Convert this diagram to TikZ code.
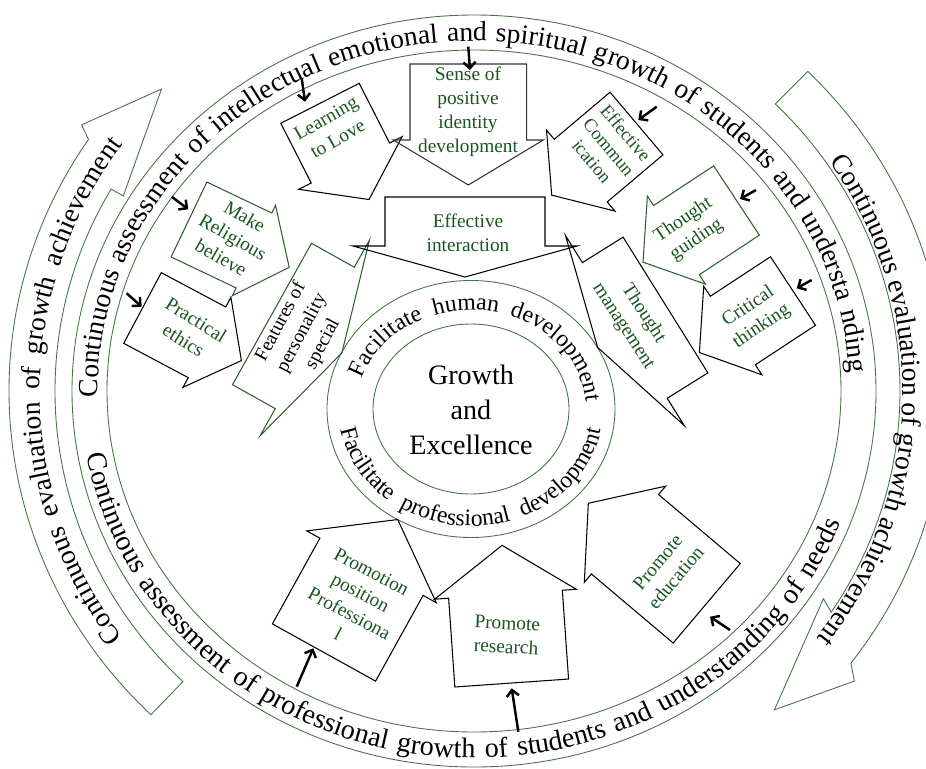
\documentclass[tikz,border=0pt]{standalone}
\usepackage{fontspec}
\setmainfont{Liberation Serif}
\usetikzlibrary{arrows.meta,decorations.text}

\definecolor{ringgreen}{RGB}{70,115,70}
\definecolor{boxgreen}{RGB}{45,95,45}
\definecolor{labelgreen}{RGB}{25,85,30}

\newcommand{\bandfont}{\fontsize{15.7}{18}\selectfont}
\newcommand{\lowbandfont}{\fontsize{16}{18}\selectfont}
\newcommand{\ringfont}{\fontsize{13.5}{16}\selectfont}

\tikzset{
  ring/.style={draw=ringgreen,line width=0.5pt},
  blockline/.style={line width=0.6pt},
  boxtext/.style={text=labelgreen,align=center,font=\fontsize{11}{13.5}\selectfont},
  pointer/.style={-{Straight Barb[length=3.5pt,width=7pt]},line width=1.4pt},
  bandtext/.style={decorate,decoration={text along path,text align={fit to path stretching spaces},text={#1}}},
}

\begin{document}
\begin{tikzpicture}[x=0.02cm,y=0.02cm]
\useasboundingbox (0,0) rectangle (926,-768);

% outer band and the two evaluation arrows
\begin{scope}[shift={(474,-391)}]
\draw[ring] (0,0) ellipse[x radius=402,y radius=376];
\draw[ring] (0,0) ellipse[x radius=367,y radius=341];
\path[bandtext={|\bandfont|Continuous assessment of intellectual emotional and spiritual growth of students and understa nding}]
  (181:376 and 350) arc[start angle=181,end angle=3,x radius=376,y radius=350];
\path[bandtext={|\lowbandfont|Continuous assessment of professional growth of students and understanding of needs}]
  (190:393 and 367) arc[start angle=190,end angle=339,x radius=393,y radius=367];
\draw[ring] (226:465 and 450) arc[start angle=226,end angle=146,x radius=465,y radius=450]
  -- (145:479 and 464) -- (135:442 and 427) -- (150:405 and 390)
  -- (150:419 and 404) arc[start angle=150,end angle=226,x radius=419,y radius=404] -- cycle;
\draw[ring] (45:472 and 452) arc[start angle=45,end angle=-37,x radius=472,y radius=452]
  -- (-38.5:486 and 466) -- (-48:449 and 429) -- (-32:412 and 392)
  -- (-33:426 and 406) arc[start angle=-33,end angle=45,x radius=426,y radius=406] -- cycle;
\path[bandtext={|\bandfont|Continuous evaluation of growth achievement}]
  (216:434 and 419) arc[start angle=216,end angle=144,x radius=434,y radius=419];
\path[bandtext={|\bandfont|Continuous evaluation of growth achievement}]
  (34:429 and 410) arc[start angle=34,end angle=-37,x radius=429,y radius=410];
\end{scope}

% inner rings
\begin{scope}[shift={(471,-409)}]
\draw[ring] (0,0) ellipse[x radius=144,y radius=128.5];
\draw[ring] (0,0) ellipse[x radius=98,y radius=85];
\path[bandtext={|\ringfont|Facilitate human development}]
  (162:115 and 99) arc[start angle=162,end angle=4,x radius=115,y radius=99];
\path[bandtext={|\ringfont|Facilitate professional development}]
  (190:132 and 117) arc[start angle=190,end angle=350,x radius=132,y radius=117];
\end{scope}
\node[font=\fontsize{16}{20}\selectfont,align=center] (core) at (471,-410) {Growth\\and\\Excellence};

% block arrows: tail centre / angle / body length / half width / head length / head half width
\foreach \tx/\ty/\ang/\len/\hw/\hl/\hb/\col in {
  320/103.3/-63/67/44/41/58/black,
  468.3/64/-90/76/58.3/45/75/black!80,
  636.5/123.5/220.2/73/41/38/53/black,
  189/219.5/-25.5/72/41.5/39/50/boxgreen,
  142.5/308/-28/73/40/39/51/black,
  272/314/-29.2/49/81/31/112/boxgreen,
  465/197/-90/49/80/31/112/black,
  665.5/305/212/48/80/32/112/black,
  736.5/200.5/213.4/72/41.5/40/52.7/boxgreen,
  793/291/213.3/72/41/40/53/black,
  324/652.5/61/98/59/54/74/black,
  511.7/683/94/89/57/49/71/black,
  706.7/603.3/139.8/107/52/48/63/black}
{
  \begin{scope}[shift={(\tx,-\ty)},rotate=\ang]
    \draw[blockline,draw=\col] (0,-\hw) -- (\len,-\hw) -- (\len,-\hb) -- (\len+\hl,0)
      -- (\len,\hb) -- (\len,\hw) -- (0,\hw) -- cycle;
  \end{scope}
}

% labels
\node[boxtext,rotate=30] (learning) at (331.7,-128.3) {Learning\\to Love};
\node[boxtext] (identity) at (468,-111.7) {Sense of\\positive\\identity\\development};
\node[boxtext,rotate=-50,font=\fontsize{10.5}{12.5}\selectfont] (commun) at (609,-147) {Effective\\Commun\\ication};
\node[boxtext,rotate=-30] (religious) at (233,-237) {Make\\Religious\\believe};
\node[boxtext,rotate=-32] (ethics) at (190,-330) {Practical\\ethics};
\node[boxtext,text=black,rotate=62] (features) at (302,-333) {Features of\\personality\\special};
\node[boxtext] (interaction) at (468,-233) {Effective\\interaction};
\node[boxtext,rotate=-57] (management) at (633.3,-320) {Thought\\management};
\node[boxtext,rotate=34] (guiding) at (690,-230) {Thought\\guiding};
\node[boxtext,rotate=34] (critical) at (755,-316.7) {Critical\\thinking};
\node[boxtext,rotate=-28] (promotion) at (355,-603) {Promotion\\position\\Professiona\\l};
\node[boxtext,rotate=-3] (research) at (506.7,-635) {Promote\\research};
\node[boxtext,rotate=50] (education) at (666.7,-570) {Promote\\education};

% small pointers from the band
\foreach \name/\sx/\sy/\ex/\ey in {
  learning/301.7/78.3/305/101.7,
  identity/468.3/46.7/470/70,
  commun/656.7/106.7/638.3/120,
  guiding/756/190/740/199,
  critical/811.7/280/796.7/288.3,
  religious/171.7/196.7/188.3/209.3,
  ethics/126.7/293.3/141.7/306.7,
  promotion/296.7/686.7/313.3/648.3,
  research/518.3/731.7/511.7/688.3,
  education/730/630/710/616.7}
{
  \coordinate (\name-from) at (\sx,-\sy);
  \coordinate (\name-to) at (\ex,-\ey);
  \draw[pointer] (\name-from) -- (\name-to);
}
\end{tikzpicture}
\end{document}
